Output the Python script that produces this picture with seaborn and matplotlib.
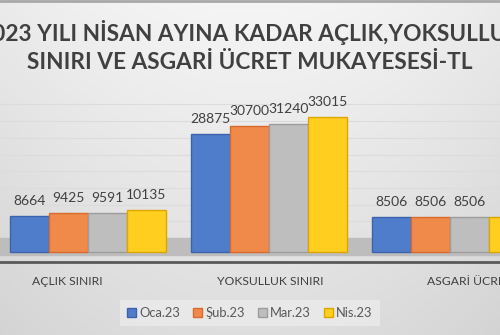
import numpy as np
import pandas as pd
import matplotlib
matplotlib.use("Agg")
import matplotlib.pyplot as plt
import seaborn as sns
from matplotlib.patches import Patch

categories = ["AÇLIK SINIRI", "YOKSULLUK SINIRI", "ASGARİ ÜCRET"]
months = ["Oca.23", "Şub.23", "Mar.23", "Nis.23"]
oca = [8664, 28875, 8506]
sub = [9425, 30700, 8506]
mar = [9591, 31240, 8506]
nis = [10135, 33015, 8506]
title = "2023 YILI NİSAN AYINA KADAR AÇLIK,YOKSULLUK\nSINIRI VE ASGARİ ÜCRET MUKAYESESİ-TL"

rows = []
for m, vals in zip(months, [oca, sub, mar, nis]):
    for c, v in zip(categories, vals):
        rows.append({"cat": c, "month": m, "value": v})
df = pd.DataFrame(rows)

sns.set_theme(style="white")
plt.rcParams["font.family"] = ["Lato", "DejaVu Sans"]

colors = ["#4F7CCB", "#F08A4B", "#BEBEBE", "#FFCE1F"]
edges = ["#3B63AD", "#D86A2C", "#9C9C9C", "#DDA500"]

fig = plt.figure(figsize=(5.0, 3.35), dpi=100)

# background gradient
bg = fig.add_axes([0, 0, 1, 1], zorder=-10)
grad = np.linspace(0, 1, 256)[:, None]
xs = np.linspace(-1, 1, 256)[None, :]
val = 0.96 - 0.09 * grad - 0.04 * xs ** 2
bg.imshow(np.dstack([val, val, val]), aspect="auto", extent=[0, 1, 0, 1])
bg.set_axis_off()
bg.axhline(0.997, color="#A8A8A8", lw=2)

ax = fig.add_axes([0, 0.218, 1, 0.5134])
ax.patch.set_alpha(0)
# floor
ax.axhspan(-700, 3400, color="#BDBDBD", zorder=0)
for y in np.arange(3400 + 4070, 40000, 4070):
    ax.axhline(y, color="#DCDCDC", lw=0.8, zorder=0)

sns.barplot(data=df, x="cat", y="value", hue="month", order=categories,
            hue_order=months, palette=colors, width=0.862, ax=ax,
            saturation=1, legend=False, zorder=2)

for i, cont in enumerate(ax.containers):
    for p in cont:
        p.set_edgecolor(edges[i])
        p.set_linewidth(1.0)
    ax.bar_label(cont, labels=[str(int(v)) for v in cont.datavalues],
                 padding=6.5, fontsize=10, color="#404040")

ax.set_xlim(-0.486, 2.276)
ax.set_ylim(-2440, 39500)
ax.set_yticks([])
ax.set_xticks([-0.116, 1.006, 2.11])
ax.set_xticklabels(categories, fontsize=8.7, color="#404040")
ax.tick_params(axis="x", length=0, pad=10)
ax.set_xlabel("")
ax.set_ylabel("")
for s in ["top", "right", "left"]:
    ax.spines[s].set_visible(False)
ax.spines["bottom"].set_color("#595959")
ax.spines["bottom"].set_linewidth(2)

fig.text(0.5, 0.861, title, ha="center", va="center", fontsize=16.3,
         fontweight="bold", color="#404040", linespacing=1.45)

handles = [Patch(facecolor=c, edgecolor=e, lw=1) for c, e in zip(colors, edges)]
leg = fig.legend(handles, months, loc="center", bbox_to_anchor=(0.5, 0.066),
                 ncol=4, frameon=True, fontsize=9.3, handlelength=0.7,
                 handleheight=0.7, handletextpad=0.25, columnspacing=1.0,
                 borderpad=0.55)
leg.get_frame().set_facecolor("#EBEBEB")
leg.get_frame().set_edgecolor("none")
leg.get_frame().set_boxstyle("square", pad=0)
for t in leg.get_texts():
    t.set_color("#595959")

fig.savefig("out.png", dpi=100)
